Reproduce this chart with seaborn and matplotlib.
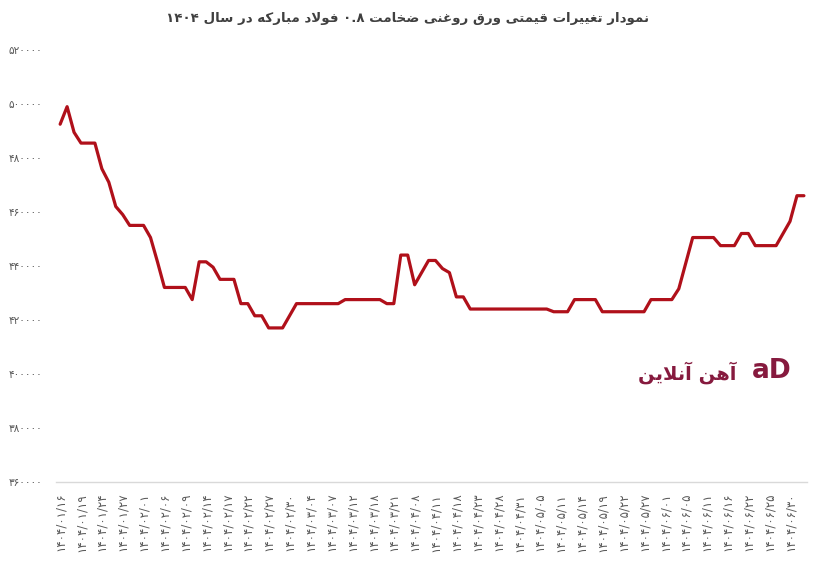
import numpy as np
import pandas as pd
import matplotlib
matplotlib.use("Agg")
import matplotlib.pyplot as plt
from matplotlib.ticker import FuncFormatter, FixedLocator
import seaborn as sns

# price per day (108 trading days)
prices = [
    492500, 499000, 489500, 485500, 485500, 485500, 476000, 471000, 462000, 459000,
    455000, 455000, 455000, 450500, 441500, 432000, 432000, 432000, 432000, 427500,
    441500, 441500, 439500, 435000, 435000, 435000, 426000, 426000, 421500, 421500,
    417000, 417000, 417000, 421500, 426000, 426000, 426000, 426000, 426000, 426000,
    426000, 427500, 427500, 427500, 427500, 427500, 427500, 426000, 426000, 444000,
    444000, 433000, 437500, 442000, 442000, 439000, 437500, 428500, 428500, 424000,
    424000, 424000, 424000, 424000, 424000, 424000, 424000, 424000, 424000, 424000,
    424000, 423000, 423000, 423000, 427500, 427500, 427500, 427500, 423000, 423000,
    423000, 423000, 423000, 423000, 423000, 427500, 427500, 427500, 427500, 431500,
    441000, 450500, 450500, 450500, 450500, 447500, 447500, 447500, 452000, 452000,
    447500, 447500, 447500, 447500, 452000, 456500, 466000, 466000,
]

# labels shown on the x axis (every third day)
date_labels = [
    "۱۴۰۴/۰۱/۱۶", "۱۴۰۴/۰۱/۱۹", "۱۴۰۴/۰۱/۲۴", "۱۴۰۴/۰۱/۲۷", "۱۴۰۴/۰۲/۰۱", "۱۴۰۴/۰۲/۰۶",
    "۱۴۰۴/۰۲/۰۹", "۱۴۰۴/۰۲/۱۴", "۱۴۰۴/۰۲/۱۷", "۱۴۰۴/۰۲/۲۲", "۱۴۰۴/۰۲/۲۷", "۱۴۰۴/۰۲/۳۰",
    "۱۴۰۴/۰۳/۰۴", "۱۴۰۴/۰۳/۰۷", "۱۴۰۴/۰۳/۱۲", "۱۴۰۴/۰۳/۱۸", "۱۴۰۴/۰۳/۲۱", "۱۴۰۴/۰۴/۰۸",
    "۱۴۰۴/۰۴/۱۱", "۱۴۰۴/۰۴/۱۸", "۱۴۰۴/۰۴/۲۳", "۱۴۰۴/۰۴/۲۸", "۱۴۰۴/۰۴/۳۱", "۱۴۰۴/۰۵/۰۵",
    "۱۴۰۴/۰۵/۱۱", "۱۴۰۴/۰۵/۱۴", "۱۴۰۴/۰۵/۱۹", "۱۴۰۴/۰۵/۲۲", "۱۴۰۴/۰۵/۲۷", "۱۴۰۴/۰۶/۰۱",
    "۱۴۰۴/۰۶/۰۵", "۱۴۰۴/۰۶/۱۱", "۱۴۰۴/۰۶/۱۶", "۱۴۰۴/۰۶/۲۲", "۱۴۰۴/۰۶/۲۵", "۱۴۰۴/۰۶/۳۰",
]

y_ticks = [360000, 380000, 400000, 420000, 440000, 460000, 480000, 500000, 520000]

title = "نمودار تغییرات قیمتی ورق روغنی ضخامت ۰.۸ فولاد مبارکه در سال ۱۴۰۴"
brand = "آهن آنلاین"

# --- simple persian shaping (matplotlib has no bidi / joining) ---
# forms: isolated, final, initial, medial
FORMS = {
    "ا": ("\uFE8D", "\uFE8E"), "آ": ("\uFE81", "\uFE82"),
    "د": ("\uFEA9", "\uFEAA"), "ر": ("\uFEAD", "\uFEAE"), "و": ("\uFEED", "\uFEEE"),
    "ب": ("\uFE8F", "\uFE90", "\uFE91", "\uFE92"),
    "ت": ("\uFE95", "\uFE96", "\uFE97", "\uFE98"),
    "خ": ("\uFEA5", "\uFEA6", "\uFEA7", "\uFEA8"),
    "س": ("\uFEB1", "\uFEB2", "\uFEB3", "\uFEB4"),
    "ض": ("\uFEBD", "\uFEBE", "\uFEBF", "\uFEC0"),
    "غ": ("\uFECD", "\uFECE", "\uFECF", "\uFED0"),
    "ف": ("\uFED1", "\uFED2", "\uFED3", "\uFED4"),
    "ق": ("\uFED5", "\uFED6", "\uFED7", "\uFED8"),
    "ل": ("\uFEDD", "\uFEDE", "\uFEDF", "\uFEE0"),
    "م": ("\uFEE1", "\uFEE2", "\uFEE3", "\uFEE4"),
    "ن": ("\uFEE5", "\uFEE6", "\uFEE7", "\uFEE8"),
    "ه": ("\uFEE9", "\uFEEA", "\uFEEB", "\uFEEC"),
    "ک": ("\uFB8E", "\uFB8F", "\uFB90", "\uFB91"),
    "ی": ("\uFBFC", "\uFBFD", "\uFBFE", "\uFBFF"),
}
LAM_ALEF = {"ا": ("\uFEFB", "\uFEFC"), "آ": ("\uFEF5", "\uFEF6")}
DIGITS = set("۰۱۲۳۴۵۶۷۸۹0123456789.")


def shape_fa(text):
    out = []
    i = 0
    n = len(text)
    while i < n:
        c = text[i]
        if c not in FORMS:
            out.append(c)
            i += 1
            continue
        prev = text[i - 1] if i > 0 else ""
        joins_prev = prev in FORMS and len(FORMS[prev]) == 4
        nxt = text[i + 1] if i + 1 < n else ""
        if c == "ل" and nxt in LAM_ALEF:
            out.append(LAM_ALEF[nxt][1 if joins_prev else 0])
            i += 2
            continue
        f = FORMS[c]
        joins_next = len(f) == 4 and nxt in FORMS
        if joins_prev and joins_next:
            out.append(f[3])
        elif joins_next:
            out.append(f[2])
        elif joins_prev:
            out.append(f[1])
        else:
            out.append(f[0])
        i += 1
    vis = "".join(out)[::-1]
    # numbers keep left-to-right order
    res, run = "", ""
    for ch in vis:
        if ch in DIGITS:
            run += ch
        else:
            res += run[::-1] + ch
            run = ""
    return res + run[::-1]


fa_digits = str.maketrans("0123456789", "۰۱۲۳۴۵۶۷۸۹")

df = pd.DataFrame({"day": np.arange(len(prices)), "price": prices})

sns.set_theme(style="white")
plt.rcParams["font.family"] = ["DejaVu Sans"]

fig = plt.figure(figsize=(8.16, 5.67), dpi=100)
ax = fig.add_axes([0.0686, 0.1504, 0.920, 0.7614])

sns.lineplot(data=df, x="day", y="price", ax=ax, color="#b0101a", linewidth=2.3)

ax.set_ylim(360000, 520000)
ax.set_xlim(-0.6, 107.4)
ax.yaxis.set_major_locator(FixedLocator(y_ticks))
ax.yaxis.set_major_formatter(FuncFormatter(lambda v, p: f"{int(v)}".translate(fa_digits)))
ax.set_xticks(np.arange(0, len(prices), 3))
ax.set_xticklabels(date_labels, rotation=90)
ax.tick_params(axis="x", labelsize=8.5, colors="#595959", length=0, pad=8)
ax.tick_params(axis="y", labelsize=7.6, colors="#595959", length=0, pad=10)
ax.set_xlabel("")
ax.set_ylabel("")

for side in ["top", "right", "left"]:
    ax.spines[side].set_visible(False)
ax.spines["bottom"].set_color("#d9d9d9")
ax.spines["bottom"].set_linewidth(1)

fig.text(0.5, 0.967, shape_fa(title), ha="center", va="center",
         fontsize=9.6, fontweight="bold", color="#404040")

# watermark
fig.text(0.902, 0.343, shape_fa(brand), ha="right", va="center",
         fontsize=14, fontweight="bold", color="#861a3e")
fig.text(0.97, 0.345, "aD", ha="right", va="center",
         fontsize=19, fontweight="bold", color="#861a3e")

fig.savefig("out.png", dpi=100)
